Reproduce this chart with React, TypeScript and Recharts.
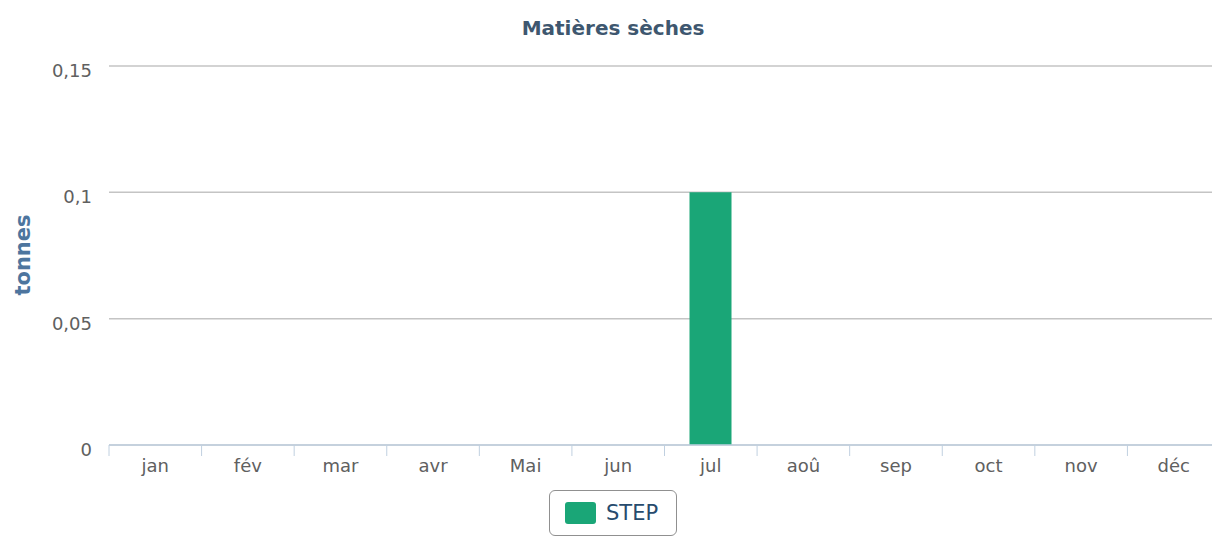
import React from 'react';
import { BarChart, Bar, XAxis, YAxis, CartesianGrid, Legend } from 'recharts';

// Monthly dry matter (tonnes)
const months = ['jan', 'fév', 'mar', 'avr', 'Mai', 'jun', 'jul', 'aoû', 'sep', 'oct', 'nov', 'déc'];
const stepValues = [0, 0, 0, 0, 0, 0, 0.1, 0, 0, 0, 0, 0];
const yTicks = [0, 0.05, 0.1, 0.15];

const data = months.map((m, i) => ({ month: m, step: stepValues[i] }));

const FONT = '"DejaVu Sans", Verdana, sans-serif';
const PLOT_LEFT = 109;
const PLOT_RIGHT = 1220;
const BAND = (PLOT_RIGHT - PLOT_LEFT) / months.length;

const fmt = (v: number) => String(v).replace('.', ',');

const MonthTick = (props: any) => {
  const { x, y, payload } = props;
  const left = x - BAND / 2;
  return (
    <g>
      <line x1={left} y1={y} x2={left} y2={y + 11} stroke="#c0d0e0" strokeWidth={1} />
      <text x={x} y={y + 27} textAnchor="middle" fill="#606060" fontSize={18} fontFamily={FONT}>
        {payload.value}
      </text>
    </g>
  );
};

const ValueTick = (props: any) => {
  const { x, y, payload } = props;
  return (
    <text x={x} y={y + 11} textAnchor="end" fill="#606060" fontSize={18} fontFamily={FONT}>
      {fmt(payload.value)}
    </text>
  );
};

const LegendBox = () => (
  <div style={{ display: 'flex', justifyContent: 'center' }}>
    <div
      style={{
        boxSizing: 'border-box',
        height: 46,
        width: 128,
        border: '1px solid #909090',
        borderRadius: 6,
        display: 'flex',
        alignItems: 'center',
        paddingLeft: 15,
        fontFamily: FONT,
        fontSize: 21,
        color: '#274b6d',
        marginLeft: 6,
      }}
    >
      <span style={{ width: 31, height: 22, background: '#1aa677', borderRadius: 3, marginRight: 10 }} />
      STEP
    </div>
  </div>
);

export default function App() {
  return (
    <div style={{ position: 'absolute', left: 0, top: 0, width: 1212, height: 536, background: '#fff' }}>
      <BarChart
        width={1212}
        height={536}
        data={data}
        margin={{ top: 66, right: -8, left: 0, bottom: 0 }}
      >
        <text x={613} y={35} textAnchor="middle" fill="#3e576f" fontSize={20} fontWeight="bold" fontFamily={FONT}>
          Matières sèches
        </text>
        <text
          x={0}
          y={0}
          transform="translate(30,255) rotate(-90)"
          textAnchor="middle"
          fill="#4d759e"
          fontSize={21}
          fontWeight="bold"
          fontFamily={FONT}
        >
          tonnes
        </text>
        <CartesianGrid vertical={false} stroke="#c4c4c4" strokeWidth={1.5} />
        <XAxis
          dataKey="month"
          height={45}
          interval={0}
          tickLine={false}
          tickSize={0}
          tickMargin={0}
          axisLine={{ stroke: '#c0d0e0', strokeWidth: 1.5 }}
          tick={<MonthTick />}
        />
        <YAxis
          width={109}
          domain={[0, 0.15]}
          ticks={yTicks}
          axisLine={false}
          tickLine={false}
          tickSize={0}
          tickMargin={17}
          tick={<ValueTick />}
        />
        <Legend verticalAlign="bottom" content={<LegendBox />} wrapperStyle={{ bottom: 0 }} />
        <Bar dataKey="step" name="STEP" fill="#1aa677" barSize={42} isAnimationActive={false} />
      </BarChart>
    </div>
  );
}
